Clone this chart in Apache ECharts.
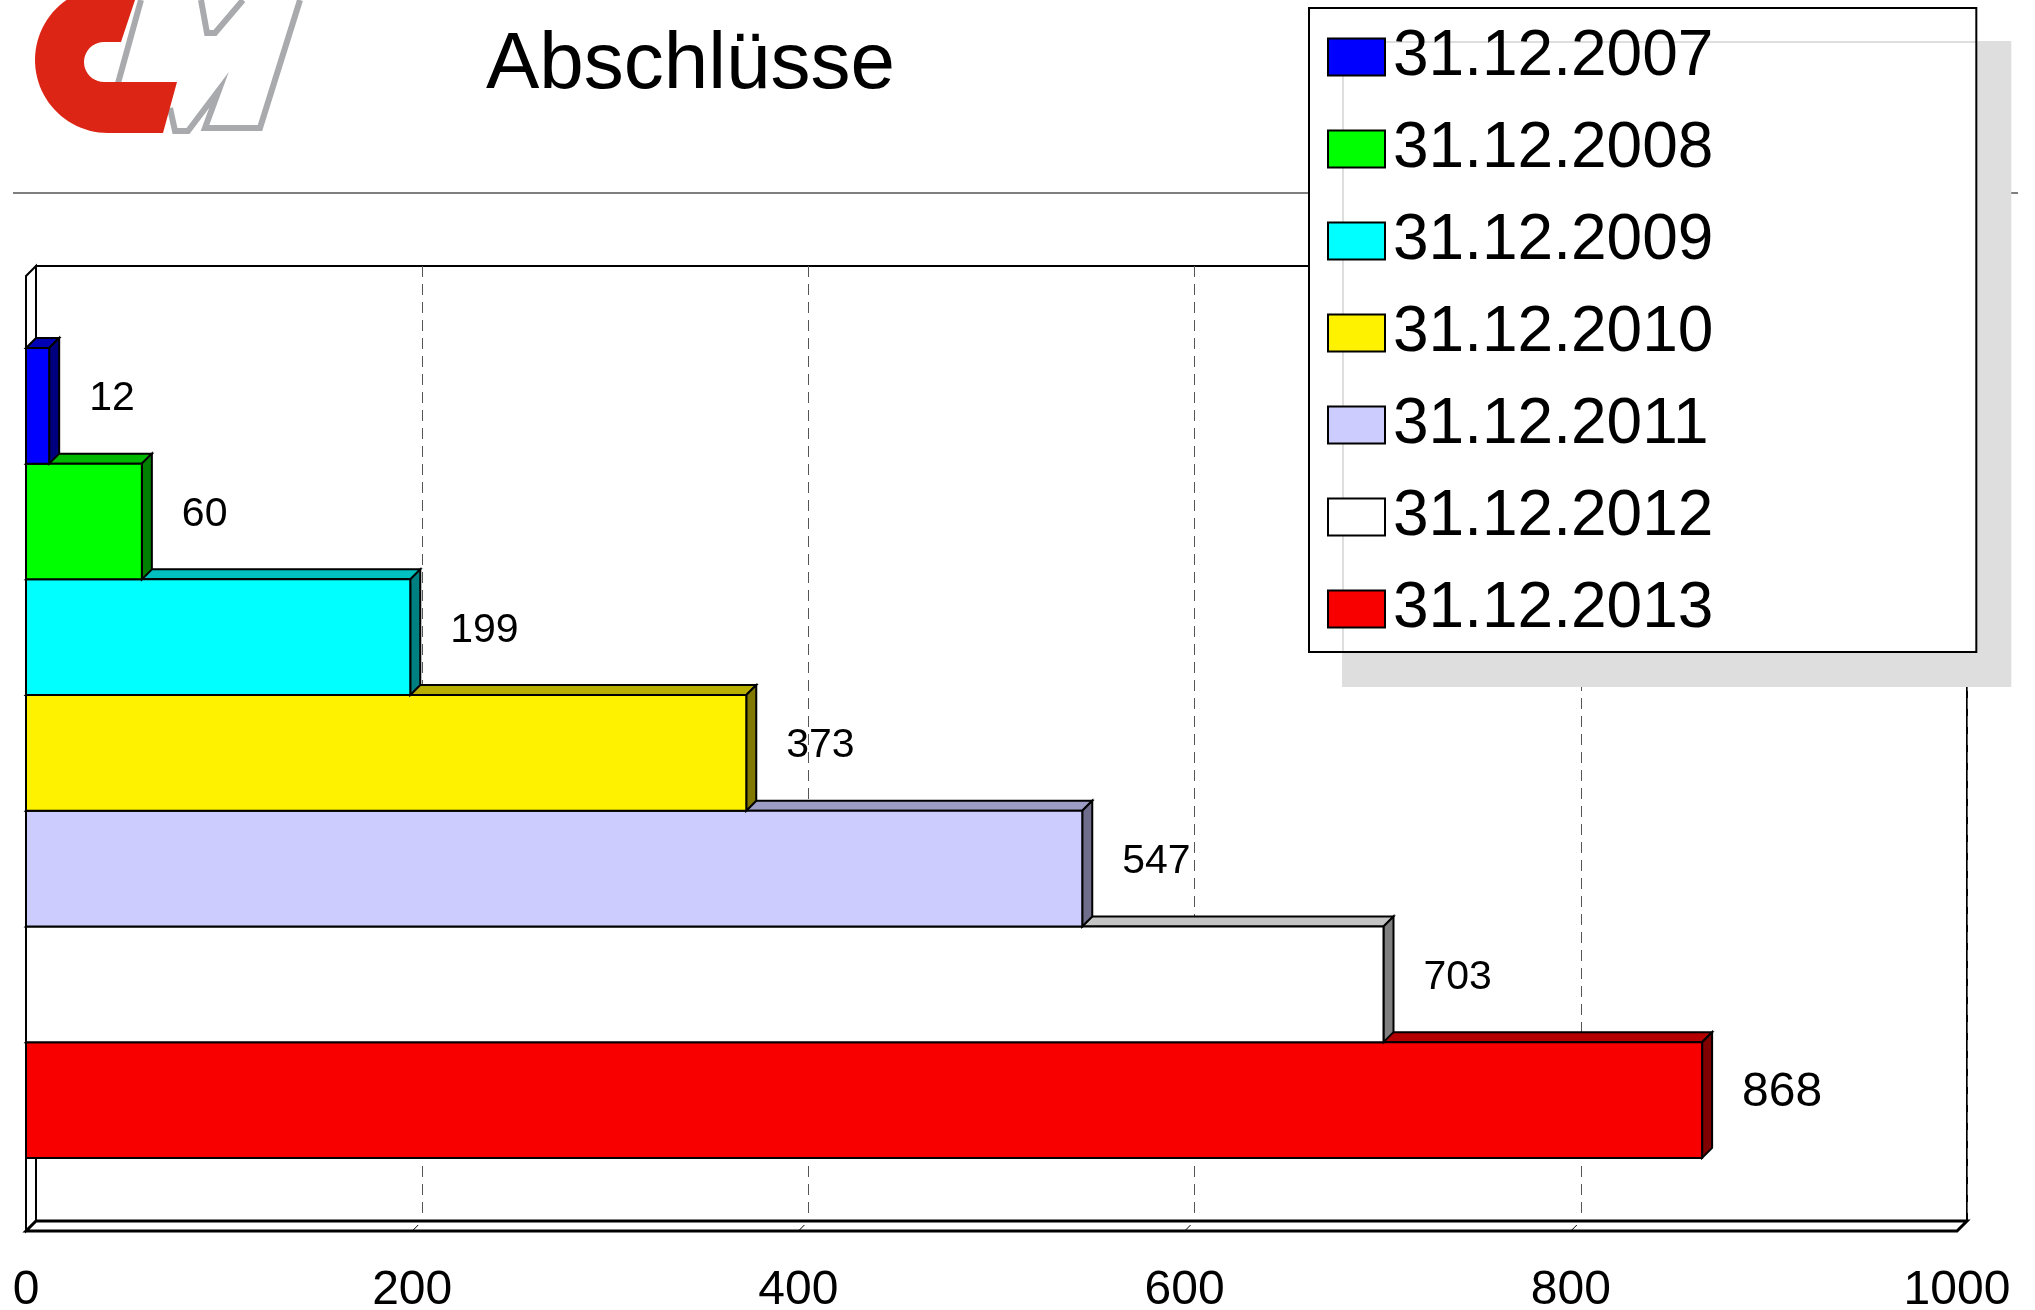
<!DOCTYPE html>
<html>
<head>
<meta charset="utf-8">
<script src="https://cdn.jsdelivr.net/npm/echarts@6/dist/echarts.min.js"></script>
<style>
html, body { margin: 0; padding: 0; background: #fff; }
#chart { width: 2035px; height: 1310px; }
</style>
</head>
<body>
<div id="chart"></div>
<script>
// data
var dates = ['31.12.2007', '31.12.2008', '31.12.2009', '31.12.2010', '31.12.2011', '31.12.2012', '31.12.2013'];
var counts = [12, 60, 199, 373, 547, 703, 868];
var xMin = 0, xMax = 1000, xStep = 200;

// styles
var faceColors = ['#0000ff', '#00ff00', '#00ffff', '#fff200', '#ccccff', '#ffffff', '#f80000'];
var topColors  = ['#0000b4', '#00b800', '#00c0c0', '#b8ae00', '#9c9cc4', '#c4c4c4', '#b40000'];
var sideColors = ['#00007f', '#008000', '#008080', '#807800', '#6e6e8c', '#808080', '#800000'];
var FONT = 'Liberation Sans, Arial, Helvetica, sans-serif';
var DEPTH = 10;
var yMin = -1.122, yMax = 7.132;   // room above / below the bar block

var chart = echarts.init(document.getElementById('chart'));

// one 3d bar per series
function renderBar(params, api) {
    var i = api.value(1);
    var v = api.value(0);
    var p0 = api.coord([0, i - 0.5]);
    var p1 = api.coord([v, i + 0.5]);
    var x0 = p0[0], y0 = p0[1], x1 = p1[0], y1 = p1[1], d = DEPTH;
    var line = { stroke: '#000', lineWidth: 2, lineJoin: 'miter' };
    return {
        type: 'group',
        children: [
            { type: 'polygon', shape: { points: [[x0, y0], [x0 + d, y0 - d], [x1 + d, y0 - d], [x1, y0]] },
              style: Object.assign({ fill: topColors[i] }, line) },
            { type: 'polygon', shape: { points: [[x1, y0], [x1 + d, y0 - d], [x1 + d, y1 - d], [x1, y1]] },
              style: Object.assign({ fill: sideColors[i] }, line) },
            { type: 'rect', shape: { x: x0, y: y0, width: x1 - x0, height: y1 - y0 },
              style: Object.assign({ fill: faceColors[i] }, line) },
            { type: 'text', x: x1 + 40, y: (y0 + y1) / 2 - 7,
              style: { text: String(v), fill: '#000', font: (i === counts.length - 1 ? 48 : 41) + 'px ' + FONT,
                       textAlign: 'left', textVerticalAlign: 'middle' } }
        ]
    };
}

// left wall, floor and floor ticks
function renderFrame(params, api) {
    var a = api.coord([xMin, yMin]);
    var b = api.coord([xMax, yMax]);
    var L = a[0], T = a[1], R = b[0], B = b[1], d = DEPTH;
    var kids = [
        { type: 'polygon', shape: { points: [[L, T], [L + d, T - d], [L + d, B - d], [L, B]] },
          style: { fill: '#fff', stroke: '#000', lineWidth: 2 } },
        { type: 'polygon', shape: { points: [[L, B], [L + d, B - d], [R + d, B - d], [R, B]] },
          style: { fill: '#fff', stroke: '#000', lineWidth: 3 } }
    ];
    for (var v = xMin + xStep; v < xMax; v += xStep) {
        var x = api.coord([v, yMax])[0];
        kids.push({ type: 'line', shape: { x1: x, y1: B, x2: x + d * 0.6, y2: B - d * 0.6 },
                    style: { stroke: '#000', lineWidth: 1 } });
    }
    return { type: 'group', children: kids };
}

var series = dates.map(function (name, i) {
    return {
        name: name,
        type: 'custom',
        xAxisIndex: 0,
        yAxisIndex: 0,
        z: 3 + dates.length - i,
        itemStyle: { color: faceColors[i] },
        renderItem: renderBar,
        data: [[counts[i], i]]
    };
});
series.push({
    type: 'custom',
    xAxisIndex: 0,
    yAxisIndex: 0,
    z: 1,
    silent: true,
    renderItem: renderFrame,
    data: [[0, 0]]
});

// logo pieces
function arcPts(cx, cy, r, a0, a1, n) {
    var pts = [];
    for (var k = 0; k <= n; k++) {
        var a = (a0 + (a1 - a0) * k / n) * Math.PI / 180;
        pts.push([cx + r * Math.cos(a), cy + r * Math.sin(a)]);
    }
    return pts;
}
var redC = arcPts(108, 60, 73, 235.3, 90, 40)
    .concat([[163, 133], [177, 82], [104, 82]])
    .concat(arcPts(104, 62, 20, 90, 270, 20))
    .concat([[121, 42], [135, 0]]);

var gray = { stroke: '#a9aaad', lineWidth: 6, lineJoin: 'miter', fill: null };

var option = {
    animation: false,
    backgroundColor: '#fff',
    title: {
        text: 'Abschlüsse',
        left: 486,
        top: 26,
        padding: 0,
        textStyle: { fontFamily: FONT, fontSize: 80, fontWeight: 'normal', color: '#000', lineHeight: 80 }
    },
    legend: {
        data: dates,
        orient: 'vertical',
        left: 1309,
        top: 8,
        z: 10,
        selectedMode: false,
        icon: 'rect',
        itemWidth: 57,
        itemHeight: 37,
        itemGap: 22,
        padding: [14, 263, 8, 18],
        backgroundColor: '#fff',
        borderColor: '#000',
        borderWidth: 2,
        shadowColor: '#dedede',
        shadowBlur: 0,
        shadowOffsetX: 34,
        shadowOffsetY: 34,
        itemStyle: { borderColor: '#000', borderWidth: 2 },
        textStyle: { fontFamily: FONT, fontSize: 64, lineHeight: 70, color: '#000', padding: [0, 0, 0, 3] }
    },
    grid: [
        { left: 26, top: 276, width: 1931, height: 955, outerBoundsMode: 'none', containLabel: false },
        { left: 26 + DEPTH, top: 276 - DEPTH, width: 1931, height: 955, outerBoundsMode: 'none', containLabel: false,
          show: true, borderColor: '#000', borderWidth: 2, backgroundColor: '#fff' }
    ],
    xAxis: [
        { type: 'value', gridIndex: 0, min: xMin, max: xMax, interval: xStep,
          axisLine: { show: false }, axisTick: { show: false }, splitLine: { show: false },
          axisLabel: { fontFamily: FONT, fontSize: 48, color: '#000', margin: 36,
                       formatter: function (v) { return String(v); } } },
        { type: 'value', gridIndex: 1, min: xMin, max: xMax, interval: xStep,
          axisLine: { show: false }, axisTick: { show: false }, axisLabel: { show: false },
          splitLine: { show: true, lineStyle: { color: '#555', width: 1, type: [11, 7] } } }
    ],
    yAxis: [
        { type: 'value', gridIndex: 0, min: yMin, max: yMax, inverse: true, show: false },
        { type: 'value', gridIndex: 1, min: 0, max: 1, show: false }
    ],
    graphic: [
        { type: 'line', z: 0, shape: { x1: 13, y1: 193, x2: 2018, y2: 193 },
          style: { stroke: '#555', lineWidth: 1.5 } },
        { type: 'polyline', z: 1, shape: { points: [[141, 0], [112, 105]] }, style: gray },
        { type: 'polyline', z: 1, shape: { points: [[201, 0], [207, 33], [215, 33], [243, 0]] }, style: gray },
        { type: 'polyline', z: 1, shape: { points: [[170, 108], [175, 131], [188, 131], [219, 90], [205, 128], [260, 128], [300, 0]] }, style: gray },
        { type: 'polygon', z: 2, shape: { points: redC }, style: { fill: '#dc2515' } }
    ],
    series: series
};

chart.setOption(option);
</script>
</body>
</html>
